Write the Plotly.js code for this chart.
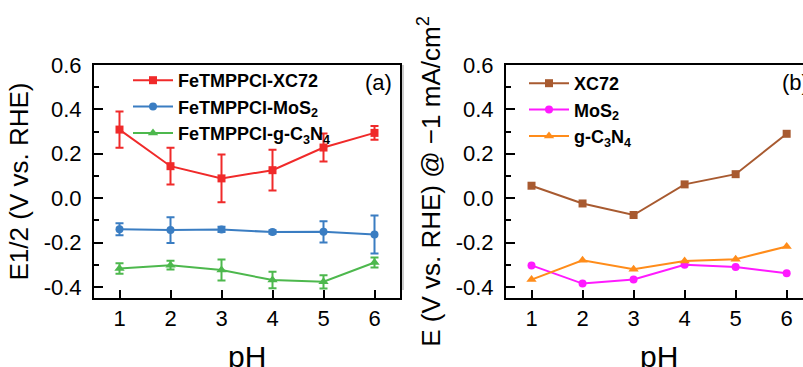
<!DOCTYPE html>
<html>
<head>
<meta charset="utf-8">
<script src="https://cdn.plot.ly/plotly-3.0.1.min.js"></script>
<style>html,body{margin:0;padding:0;background:#fff;}#chart{width:803px;height:367px;}</style>
</head>
<body>
<div id="chart"></div>
<script>
// ---- data ----
const pH = [1, 2, 3, 4, 5, 6];

// panel (a): E1/2 with error bars
const aXC72 = [0.309, 0.144, 0.089, 0.126, 0.228, 0.294];
const aXC72Err = [0.082, 0.083, 0.108, 0.092, 0.063, 0.031];
const aMoS2 = [-0.140, -0.144, -0.141, -0.153, -0.152, -0.164];
const aMoS2Err = [0.027, 0.058, 0.012, 0.008, 0.048, 0.086];
const aCN = [-0.317, -0.302, -0.324, -0.369, -0.377, -0.290];
const aCNErr = [0.024, 0.020, 0.047, 0.037, 0.030, 0.022];

// panel (b): E @ -1 mA/cm2
const bXC72 = [0.056, -0.024, -0.076, 0.062, 0.108, 0.290];
const bMoS2 = [-0.303, -0.385, -0.367, -0.300, -0.310, -0.338];
const bCN = [-0.367, -0.280, -0.320, -0.283, -0.275, -0.218];

const namesA = ['FeTMPPCl-XC72', 'FeTMPPCl-MoS<sub>2</sub>', 'FeTMPPCl-g-C<sub>3</sub>N<sub>4</sub>'];
const namesB = ['XC72', 'MoS<sub>2</sub>', 'g-C<sub>3</sub>N<sub>4</sub>'];
const yTicks = [-0.4, -0.2, 0.0, 0.2, 0.4, 0.6];
const yTickText = ['-0.4', '-0.2', '0.0', '0.2', '0.4', '0.6'];
const xTitle = 'pH';

// ---- styling ----
const W = 803, H = 367;
const FONT = 'Arial, "Liberation Sans", sans-serif';
const cRed = '#F02A2A', cBlue = '#3A7DC2', cGreen = '#4DB84D';
const cBrown = '#A85A30', cMag = '#FF1AFF', cOrange = '#FF8C1A';

function errTrace(y, e, color, name, symbol, size) {
  return {
    x: pH, y: y, name: name, type: 'scatter', mode: 'lines+markers',
    xaxis: 'x', yaxis: 'y', legend: 'legend',
    line: {color: color, width: 2},
    marker: {color: color, symbol: symbol, size: size},
    error_y: {type: 'data', array: e, visible: true, color: color, thickness: 2, width: 4}
  };
}
function lineTrace(y, color, name, symbol, size) {
  return {
    x: pH, y: y, name: name, type: 'scatter', mode: 'lines+markers',
    xaxis: 'x2', yaxis: 'y2', legend: 'legend2',
    line: {color: color, width: 2},
    marker: {color: color, symbol: symbol, size: size}
  };
}

const traces = [
  errTrace(aXC72, aXC72Err, cRed, namesA[0], 'square', 8),
  errTrace(aMoS2, aMoS2Err, cBlue, namesA[1], 'circle', 8),
  errTrace(aCN, aCNErr, cGreen, namesA[2], 'triangle-up', 9),
  lineTrace(bXC72, cBrown, namesB[0], 'square', 8),
  lineTrace(bMoS2, cMag, namesB[1], 'circle', 8),
  lineTrace(bCN, cOrange, namesB[2], 'triangle-up', 9)
];

const px = v => v / W;
const py = v => (H - v) / H;

function xAxis(domain, range) {
  return {
    domain: domain, range: range, tickmode: 'array', tickvals: pH, ticktext: pH.map(String),
    ticks: 'inside', ticklen: 8, tickwidth: 2, tickcolor: '#000',
    showline: true, linewidth: 2, linecolor: '#000', mirror: true,
    showgrid: false, zeroline: false,
    tickfont: {family: FONT, size: 22, color: '#000'},
    automargin: false, fixedrange: true
  };
}
function yAxis(domain, title, anchor, mirror) {
  return {
    domain: domain, range: [-0.45, 0.6], anchor: anchor,
    tickmode: 'array', tickvals: yTicks, ticktext: yTickText,
    ticks: 'inside', ticklen: 9, tickwidth: 2, tickcolor: '#000',
    minor: {dtick: 0.1, tick0: 0, ticks: 'inside', ticklen: 5, tickwidth: 2, tickcolor: '#000'},
    showline: true, linewidth: 2, linecolor: '#000', mirror: mirror,
    showgrid: false, zeroline: false, ticklabelstandoff: 6,
    tickfont: {family: FONT, size: 22, color: '#000'},
    title: {text: title, font: {family: FONT, size: 26, color: '#000'}, standoff: 8},
    automargin: false, fixedrange: true
  };
}

const yDom = [py(298), py(65)];
const layout = {
  width: W, height: H,
  margin: {l: 0, r: 0, t: 0, b: 0},
  paper_bgcolor: '#fff', plot_bgcolor: '#fff',
  showlegend: true,
  xaxis: Object.assign(xAxis([px(94), px(400)], [0.5, 6.5]), {anchor: 'y'}),
  yaxis: yAxis(yDom, 'E1/2 (V vs. RHE)', 'x', true),
  xaxis2: Object.assign(xAxis([px(506), 1], [0.5, 6.32]), {anchor: 'y2'}),
  yaxis2: yAxis(yDom, 'E (V vs. RHE) @ \u22121 mA/cm<sup>2</sup>', 'x2', false),
  legend: {
    x: px(128), y: py(62), xanchor: 'left', yanchor: 'top',
    bgcolor: 'rgba(0,0,0,0)', borderwidth: 0, itemwidth: 40,
    font: {family: FONT, size: 18, color: '#000', weight: 'bold'}
  },
  legend2: {
    x: px(524), y: py(65), xanchor: 'left', yanchor: 'top',
    bgcolor: 'rgba(0,0,0,0)', borderwidth: 0, itemwidth: 40,
    font: {family: FONT, size: 18, color: '#000', weight: 'bold'}
  },
  annotations: [
    {text: '(a)', xref: 'x', yref: 'y', x: 6.39, y: 0.52, xanchor: 'right', yanchor: 'middle',
     showarrow: false, font: {family: FONT, size: 22, color: '#000'}},
    {text: '(b)', xref: 'paper', yref: 'y2', x: px(780), y: 0.52, xanchor: 'left', yanchor: 'middle',
     showarrow: false, font: {family: FONT, size: 22, color: '#000'}},
    {text: xTitle, xref: 'x', yref: 'paper', x: 3.5, y: py(356), xanchor: 'center', yanchor: 'middle',
     showarrow: false, font: {family: FONT, size: 30, color: '#000'}},
    {text: xTitle, xref: 'x2', yref: 'paper', x: 3.5, y: py(356), xanchor: 'center', yanchor: 'middle',
     showarrow: false, font: {family: FONT, size: 30, color: '#000'}}
  ],
  shapes: [
    {type: 'line', xref: 'paper', yref: 'paper', x0: px(403), x1: px(403), y0: py(65), y1: py(290),
     line: {color: '#9a9a9a', width: 1}}
  ]
};

Plotly.newPlot('chart', traces, layout, {displayModeBar: false, staticPlot: true});
</script>
</body>
</html>
